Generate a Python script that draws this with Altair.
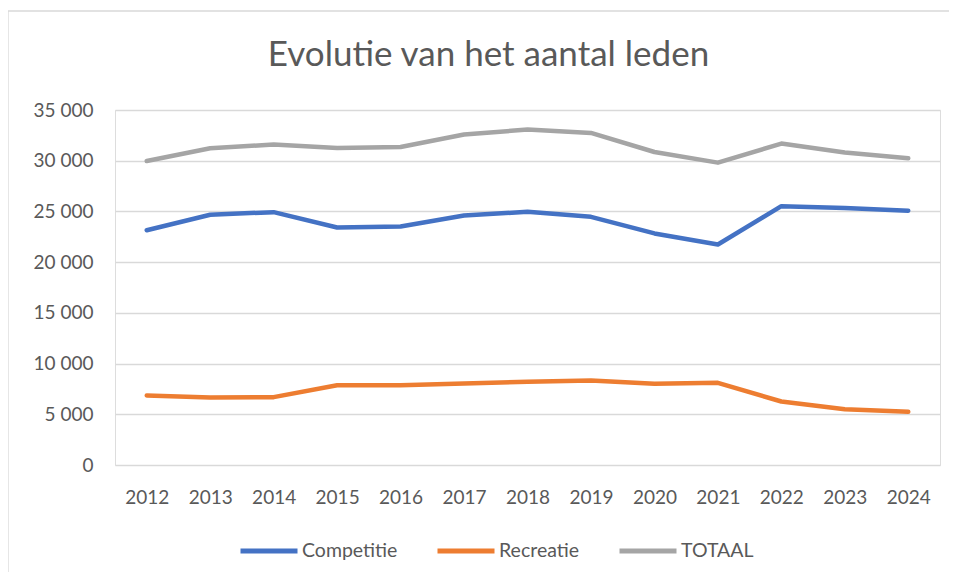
import altair as alt
import pandas as pd

years = ["2012", "2013", "2014", "2015", "2016", "2017", "2018", "2019", "2020", "2021", "2022", "2023", "2024"]
competitie = [23150, 24670, 24930, 23420, 23520, 24600, 24970, 24470, 22830, 21740, 25520, 25330, 25070]
recreatie = [6850, 6650, 6690, 7870, 7870, 8040, 8200, 8330, 8000, 8100, 6260, 5500, 5240]
totaal = [29970, 31225, 31590, 31260, 31350, 32580, 33070, 32740, 30860, 29810, 31690, 30800, 30240]
series_names = ["Competitie", "Recreatie", "TOTAAL"]
series_colors = ["#4472C4", "#ED7D31", "#A5A5A5"]
y_ticks = [0, 5000, 10000, 15000, 20000, 25000, 30000, 35000]

rows = []
for name, vals in zip(series_names, [competitie, recreatie, totaal]):
    for yr, v in zip(years, vals):
        rows.append({"jaar": yr, "reeks": name, "leden": v})
df = pd.DataFrame(rows)

FONT = "Lato"
TXT = "#595959"

lines = alt.Chart(df).mark_line(strokeWidth=4.5, strokeCap="round", strokeJoin="round").encode(
    x=alt.X("jaar:O", sort=years, title=None,
            scale=alt.Scale(type="point", padding=0.5),
            axis=alt.Axis(labelAngle=0, ticks=False, domain=False, labelPadding=23,
                          labelFontSize=19, labelColor=TXT, labelFont=FONT)),
    y=alt.Y("leden:Q", title=None,
            scale=alt.Scale(domain=[0, 35000], nice=False),
            axis=alt.Axis(values=y_ticks, ticks=False, domain=False, labelPadding=22,
                          labelFontSize=19, labelColor=TXT, labelFont=FONT,
                          gridColor="#D9D9D9", gridWidth=1.3,
                          labelExpr="replace(format(datum.value, ','), ',', ' ')")),
    color=alt.Color("reeks:N", sort=series_names,
                    scale=alt.Scale(domain=series_names, range=series_colors),
                    legend=alt.Legend(title=None, orient="none", direction="horizontal",
                                      legendX=123, legendY=410, padding=0,
                                      symbolType="stroke", symbolSize=3249, symbolStrokeWidth=5,
                                      labelFontSize=19.5, labelColor=TXT, labelFont=FONT,
                                      labelOffset=2, columnPadding=29)),
)

border = alt.Chart(alt.Data(values=[{}])).mark_rect(
    fill=None, stroke="#D9D9D9", strokeWidth=1.3
).encode(
    x=alt.value(-107), x2=alt.value(900), y=alt.value(-99), y2=alt.value(600)
)

chart = alt.layer(border, lines).properties(
    width=825, height=355,
    padding={"left": 107, "top": 102, "right": 9, "bottom": 107},
    autosize=alt.AutoSizeParams(type="none"),
    title=alt.Title("Evolutie van het aantal leden", font=FONT, fontSize=35,
                    fontWeight="normal", color=TXT, anchor="middle",
                    baseline="alphabetic", offset=-91, dx=-39),
).configure_view(stroke=None).configure(background="white")

chart.save("out.html", embed_options={"renderer": "svg", "actions": False})
